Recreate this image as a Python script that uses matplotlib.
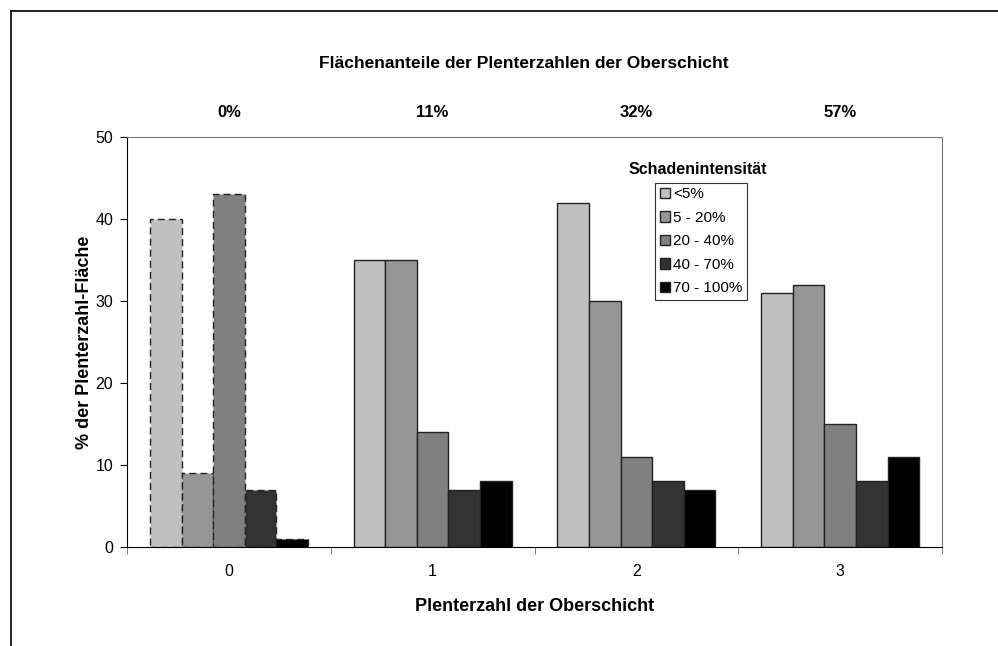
import matplotlib.pyplot as plt
import numpy as np
from matplotlib.lines import Line2D

plt.rcParams['font.family'] = ['Liberation Sans', 'DejaVu Sans']

groups = ['0', '1', '2', '3']
shares = ['0%', '11%', '32%', '57%']
labels = ['<5%', '5 - 20%', '20 - 40%', '40 - 70%', '70 - 100%']
colors = ['#c0c0c0', '#969696', '#808080', '#333333', '#000000']

lt5 = [40, 35, 42, 31]
p5_20 = [9, 35, 30, 32]
p20_40 = [43, 14, 11, 15]
p40_70 = [7, 7, 8, 8]
p70_100 = [1, 8, 7, 11]
series = [lt5, p5_20, p20_40, p40_70, p70_100]

fig = plt.figure(figsize=(9.98, 6.46), dpi=100)
ax = fig.add_axes([0.1273, 0.1533, 0.8166, 0.6347])

x = np.arange(len(groups))
w = 0.155
for i, vals in enumerate(series):
    bars = ax.bar(x + (i - 2) * w, vals, w, color=colors[i], edgecolor='#222222',
                  linewidth=1, label=labels[i])
    bars[0].set_linestyle((0, (5, 3)))

ax.set_xlim(-0.5, 3.5)
ax.set_ylim(0, 50)
ax.set_yticks(range(0, 51, 10))
ax.set_xticks(x)
ax.set_xticklabels(groups)
ax.set_xticks(np.arange(-0.5, 3.6, 1), minor=True)
ax.tick_params(axis='x', which='major', length=0, pad=12, labelsize=11.5)
ax.tick_params(axis='x', which='minor', length=5, direction='out', color='#666666')
ax.tick_params(axis='y', length=5, direction='out', labelsize=11.5, pad=5)
for s in ['top', 'right']:
    ax.spines[s].set_color('#777777')

for xi, s in zip(x, shares):
    ax.text(xi, 53, s, ha='center', va='center', fontsize=12, fontweight='bold')

ax.set_ylabel('% der Plenterzahl-Fläche', fontsize=13, fontweight='bold', labelpad=2)
ax.set_xlabel('Plenterzahl der Oberschicht', fontsize=13, fontweight='bold', labelpad=14)
fig.text(0.525, 0.902, 'Flächenanteile der Plenterzahlen der Oberschicht',
         ha='center', va='center', fontsize=12.5, fontweight='bold')

leg = ax.legend(loc='upper left', bbox_to_anchor=(0.648, 0.888), fontsize=11,
                frameon=True, fancybox=False, edgecolor='black', borderpad=0.3,
                labelspacing=0.62, handlelength=0.7, handleheight=0.7, handletextpad=0.2,
                borderaxespad=0)
leg.get_frame().set_linewidth(0.8)
for h in leg.legend_handles:
    h.set_linestyle('-')
fig.text(0.6995, 0.738, 'Schadenintensität', ha='center', va='center',
         fontsize=11.5, fontweight='bold')

fig.add_artist(Line2D([0.011, 0.011], [0, 0.983], color='black', lw=1.2))
fig.add_artist(Line2D([0.011, 1], [0.983, 0.983], color='black', lw=1.2))

plt.savefig('out.png', dpi=100)
